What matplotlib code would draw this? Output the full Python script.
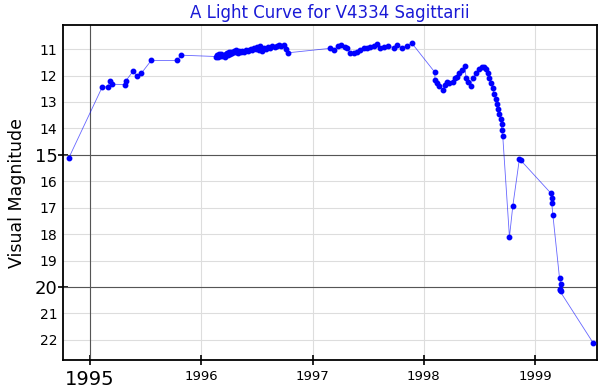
import matplotlib
matplotlib.use("Agg")
import matplotlib.pyplot as plt

years = [
    1994.81, 1995.11, 1995.16, 1995.18, 1995.195, 1995.31, 1995.32, 1995.39, 1995.42, 1995.46,
    1995.55, 1995.78, 1995.82,
    1996.13, 1996.14, 1996.15, 1996.16, 1996.17, 1996.18, 1996.19, 1996.20, 1996.21, 1996.22,
    1996.23, 1996.24, 1996.25, 1996.26, 1996.27, 1996.28, 1996.29, 1996.30, 1996.31, 1996.32,
    1996.33, 1996.34, 1996.36, 1996.37, 1996.38, 1996.40, 1996.42, 1996.43, 1996.45, 1996.46,
    1996.47, 1996.49, 1996.50, 1996.52, 1996.53, 1996.55, 1996.56, 1996.58, 1996.60, 1996.62,
    1996.64, 1996.66, 1996.68, 1996.70, 1996.72, 1996.74, 1996.76, 1996.78,
    1997.16, 1997.19, 1997.23, 1997.26, 1997.29, 1997.31, 1997.34, 1997.37, 1997.40, 1997.43,
    1997.46, 1997.49, 1997.52, 1997.55, 1997.58, 1997.61, 1997.64, 1997.68, 1997.73, 1997.76,
    1997.80, 1997.85, 1997.89,
    1998.10, 1998.10, 1998.12, 1998.14, 1998.17, 1998.19, 1998.21, 1998.23, 1998.26, 1998.28,
    1998.30, 1998.32, 1998.34, 1998.37, 1998.38, 1998.40, 1998.42, 1998.44, 1998.47, 1998.50,
    1998.52, 1998.54, 1998.56, 1998.58, 1998.59, 1998.60, 1998.62, 1998.63, 1998.65, 1998.66,
    1998.67, 1998.68, 1998.69, 1998.70, 1998.70, 1998.71,
    1998.77, 1998.80, 1998.86, 1998.87,
    1999.14, 1999.15, 1999.15, 1999.16, 1999.22, 1999.23, 1999.22, 1999.23, 1999.22, 1999.52,
]
magnitudes = [
    15.11, 12.43, 12.43, 12.21, 12.33, 12.34, 12.21, 11.82, 12.03, 11.92,
    11.43, 11.43, 11.23,
    11.28, 11.22, 11.30, 11.20, 11.25, 11.18, 11.27, 11.22, 11.30, 11.18,
    11.15, 11.22, 11.12, 11.18, 11.10, 11.15, 11.08, 11.12, 11.05, 11.10,
    11.14, 11.08, 11.12, 11.06, 11.10, 11.04, 11.08, 11.02, 10.98, 11.05,
    10.95, 11.00, 10.92, 11.05, 10.90, 11.08, 10.95, 11.00, 10.92, 10.95,
    10.88, 10.92, 10.88, 10.86, 10.90, 10.85, 10.98, 11.14,
    10.97, 11.04, 10.89, 10.85, 10.91, 10.97, 11.14, 11.16, 11.10, 11.04,
    10.97, 10.94, 10.91, 10.89, 10.81, 10.97, 10.91, 10.89, 10.94, 10.85,
    10.94, 10.89, 10.76,
    11.88, 12.17, 12.30, 12.40, 12.53, 12.36, 12.24, 12.30, 12.24, 12.11,
    12.05, 11.92, 11.80, 11.64, 12.11, 12.24, 12.40, 12.11, 11.92, 11.77,
    11.67, 11.67, 11.77, 11.92, 12.11, 12.30, 12.49, 12.68, 12.87, 13.06,
    13.25, 13.44, 13.63, 13.82, 14.07, 14.30,
    18.11, 16.94, 15.14, 15.20,
    16.44, 16.63, 16.82, 17.26, 19.66, 19.88, 20.07, 20.15, 20.13, 22.10,
]
year_ticks = [1995, 1996, 1997, 1998, 1999]
mag_ticks = [11, 12, 13, 14, 15, 16, 17, 18, 19, 20, 21, 22]
big_years = [1995]
big_mags = [15, 20]

fig = plt.figure(figsize=(6.0, 3.89), dpi=100)
ax = fig.add_axes([0.105, 0.0746, 0.89, 0.861])

ax.set_xlim(1994.757, 1999.557)
ax.set_ylim(22.76, 10.09)

ax.set_xticks(year_ticks)
ax.set_yticks(mag_ticks)
ax.grid(True, color="#dddddd", linewidth=0.8, zorder=0)
for y in big_years:
    ax.axvline(y, color="#555555", linewidth=0.8, zorder=2)
for m in big_mags:
    ax.axhline(m, color="#555555", linewidth=0.8, zorder=2)

ax.plot(years, magnitudes, color="blue", linewidth=0.6, alpha=0.6, zorder=3)
ax.plot(years, magnitudes, linestyle="none", marker="o", markersize=3.2,
        color="blue", zorder=4)

ax.tick_params(axis="x", direction="inout", length=7, width=1.2, labelsize=9.5, pad=4)
ax.tick_params(axis="y", direction="inout", length=0, width=1.2, labelsize=10, pad=4)
for lbl, t in zip(ax.get_xticklabels(), year_ticks):
    if t in big_years:
        lbl.set_fontsize(14)
for tk, lbl, m in zip(ax.yaxis.get_major_ticks(), ax.get_yticklabels(), mag_ticks):
    if m in big_mags:
        lbl.set_fontsize(13)
        tk.tick1line.set_markersize(7)

for s in ax.spines.values():
    s.set_linewidth(1.3)
    s.set_color("black")

ax.set_title("A Light Curve for V4334 Sagittarii", color="#1a1ad6", fontsize=12, pad=5)
ax.set_ylabel("Visual Magnitude", fontsize=12.5, labelpad=6)

fig.savefig("out.png", dpi=100)
